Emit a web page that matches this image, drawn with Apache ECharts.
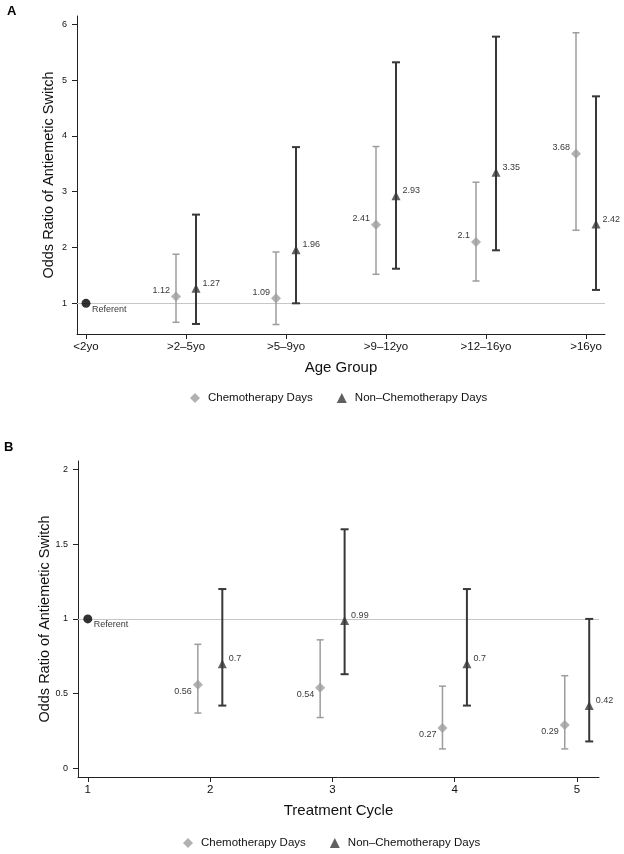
<!DOCTYPE html>
<html>
<head>
<meta charset="utf-8">
<script src="https://cdn.jsdelivr.net/npm/echarts@6/dist/echarts.min.js"></script>
<style>
html,body{margin:0;padding:0;background:#fff;}
#chart{width:624px;height:854px;}
</style>
</head>
<body>
<div id="chart"></div>
<script>
// ---------- Data ----------
const seriesNames = ['Chemotherapy Days', 'Non–Chemotherapy Days'];
const referentOR = 1;

// Panel A: age group
const ageGroups = ['<2yo', '>2–5yo', '>5–9yo', '>9–12yo', '>12–16yo', '>16yo'];
const ageChemoOR = [null, 1.12, 1.09, 2.41, 2.1, 3.68];
const ageChemoLo = [null, 0.66, 0.62, 1.52, 1.40, 2.31];
const ageChemoHi = [null, 1.88, 1.92, 3.81, 3.17, 5.85];
const ageNonOR   = [null, 1.27, 1.96, 2.93, 3.35, 2.42];
const ageNonLo   = [null, 0.63, 1.00, 1.62, 1.95, 1.24];
const ageNonHi   = [null, 2.59, 3.80, 5.32, 5.78, 4.71];
const ageYTicks  = [1, 2, 3, 4, 5, 6];

// Panel B: treatment cycle
const cycles = [1, 2, 3, 4, 5];
const cycleChemoOR = [null, 0.56, 0.54, 0.27, 0.29];
const cycleChemoLo = [null, 0.37, 0.34, 0.13, 0.13];
const cycleChemoHi = [null, 0.83, 0.86, 0.55, 0.62];
const cycleNonOR   = [null, 0.70, 0.99, 0.70, 0.42];
const cycleNonLo   = [null, 0.42, 0.63, 0.42, 0.18];
const cycleNonHi   = [null, 1.20, 1.60, 1.20, 1.00];
const cycleYTicks  = [0, 0.5, 1, 1.5, 2];

// ---------- Styling ----------
const FONT = '"Liberation Sans", Arial, Helvetica, sans-serif';
const CHEMO_COLOR = '#9d9d9d';
const NON_COLOR = '#383838';
const DODGE = 0.1;

function pts(xs, ys, shift) {
  const out = [];
  xs.forEach((x, i) => { if (ys[i] != null) out.push([x + shift, ys[i]]); });
  return out;
}
function bars(xs, lo, hi, shift) {
  const out = [];
  xs.forEach((x, i) => { if (lo[i] != null) out.push([x + shift, lo[i], hi[i]]); });
  return out;
}
function errRender(color, width, cap) {
  return function (params, api) {
    const x = api.value(0);
    const a = api.coord([x, api.value(1)]);
    const b = api.coord([x, api.value(2)]);
    const st = { stroke: color, lineWidth: width };
    const h = cap / 2;
    return {
      type: 'group',
      children: [
        { type: 'line', shape: { x1: a[0], y1: a[1], x2: b[0], y2: b[1] }, style: st },
        { type: 'line', shape: { x1: a[0] - h, y1: a[1], x2: a[0] + h, y2: a[1] }, style: st },
        { type: 'line', shape: { x1: b[0] - h, y1: b[1], x2: b[0] + h, y2: b[1] }, style: st }
      ]
    };
  };
}
function xAxisCfg(gridIndex, min, max, ticks, labels, name) {
  return {
    type: 'value', gridIndex, min, max,
    name, nameLocation: 'middle', nameGap: 26, nameMoveOverlap: false,
    nameTextStyle: { fontFamily: FONT, fontSize: 15, color: '#111' },
    axisLine: { show: true, onZero: false, lineStyle: { color: '#222', width: 1 } },
    axisTick: { show: true, customValues: ticks, length: 5, lineStyle: { color: '#222' } },
    axisLabel: {
      customValues: ticks, margin: 7, fontFamily: FONT, fontSize: 11.5, color: '#111',
      formatter: v => labels ? labels[Math.round(v)] : String(v)
    },
    splitLine: { show: false }
  };
}
function yAxisCfg(gridIndex, min, max, ticks, name, gap) {
  return {
    type: 'value', gridIndex, min, max,
    name, nameLocation: 'middle', nameGap: gap, nameMoveOverlap: false,
    nameTextStyle: { fontFamily: FONT, fontSize: 14.5, color: '#111' },
    axisLine: { show: true, onZero: false, lineStyle: { color: '#222', width: 1 } },
    axisTick: { show: true, customValues: ticks, length: 5, lineStyle: { color: '#222' } },
    axisLabel: { customValues: ticks, margin: 10, fontFamily: FONT, fontSize: 9, color: '#111' },
    splitLine: { show: false }
  };
}
function panelSeries(idx, xs, cOR, cLo, cHi, nOR, nLo, nHi, chemoLabelDy) {
  const lbl = { fontFamily: FONT, fontSize: 9, color: '#000', textBorderWidth: 0 };
  return [
    {
      type: 'custom', name: 'chemoCI' + idx, xAxisIndex: idx, yAxisIndex: idx, z: 2,
      renderItem: errRender(CHEMO_COLOR, 1.5, 7), encode: { x: 0, y: [1, 2] },
      data: bars(xs, cLo, cHi, -DODGE), silent: true
    },
    {
      type: 'custom', name: 'nonCI' + idx, xAxisIndex: idx, yAxisIndex: idx, z: 2,
      renderItem: errRender(NON_COLOR, 2, 8), encode: { x: 0, y: [1, 2] },
      data: bars(xs, nLo, nHi, DODGE), silent: true
    },
    {
      type: 'scatter', name: seriesNames[0], xAxisIndex: idx, yAxisIndex: idx, z: 5,
      symbol: 'diamond', symbolSize: 10, itemStyle: { color: CHEMO_COLOR },
      data: pts(xs, cOR, -DODGE),
      label: Object.assign({ show: true, position: 'left', distance: 1, offset: [0, chemoLabelDy],
        formatter: p => String(p.value[1]) }, lbl)
    },
    {
      type: 'scatter', name: seriesNames[1], xAxisIndex: idx, yAxisIndex: idx, z: 5,
      symbol: 'triangle', symbolSize: 9, itemStyle: { color: NON_COLOR },
      data: pts(xs, nOR, DODGE),
      label: Object.assign({ show: true, position: 'right', distance: 2, offset: [0, -5],
        formatter: p => String(p.value[1]) }, lbl)
    },
    {
      type: 'scatter', name: 'Referent' + idx, xAxisIndex: idx, yAxisIndex: idx, z: 6,
      symbol: 'circle', symbolSize: 9, itemStyle: { color: '#000' },
      data: [[xs[0], referentOR]],
      label: Object.assign({ show: true, position: 'right', distance: 1.5, offset: [0, 6],
        formatter: () => 'Referent' }, lbl),
      markLine: {
        silent: true, symbol: 'none', animation: false, z: 1,
        label: { show: false },
        lineStyle: { color: '#c6c6c6', width: 1, type: 'solid' },
        data: [{ yAxis: referentOR }]
      }
    }
  ];
}
function legendCfg(left, top) {
  return {
    left, top, orient: 'horizontal', itemWidth: 10, itemHeight: 10, itemGap: 24,
    selectedMode: false,
    textStyle: { fontFamily: FONT, fontSize: 11.5, color: '#111', padding: [0, 0, 0, 3] },
    data: [
      { name: seriesNames[0], icon: 'diamond', itemStyle: { color: CHEMO_COLOR } },
      { name: seriesNames[1], icon: 'triangle', itemStyle: { color: NON_COLOR } }
    ]
  };
}

const ageX = ageGroups.map((_, i) => i);

const option = {
  animation: false,
  backgroundColor: '#fff',
  title: [
    { text: 'A', left: 7, top: 5, padding: 0, textStyle: { fontFamily: FONT, fontSize: 13, fontWeight: 'bold', color: '#000' } },
    { text: 'B', left: 4, top: 441, padding: 0, textStyle: { fontFamily: FONT, fontSize: 13, fontWeight: 'bold', color: '#000' } }
  ],
  grid: [
    { left: 77, top: 16, width: 528, height: 318 },
    { left: 78, top: 461, width: 521, height: 316 }
  ],
  xAxis: [
    xAxisCfg(0, -0.09, 5.19, ageX, ageGroups, 'Age Group'),
    xAxisCfg(1, 0.92, 5.18, cycles, null, 'Treatment Cycle')
  ],
  yAxis: [
    yAxisCfg(0, 0.45, 6.15, ageYTicks, 'Odds Ratio of Antiemetic Switch', 21),
    yAxisCfg(1, -0.058, 2.057, cycleYTicks, 'Odds Ratio of Antiemetic Switch', 26)
  ],
  legend: [legendCfg(185, 387), legendCfg(178, 832)],
  series: [].concat(
    panelSeries(0, ageX, ageChemoOR, ageChemoLo, ageChemoHi, ageNonOR, ageNonLo, ageNonHi, -6),
    panelSeries(1, cycles, cycleChemoOR, cycleChemoLo, cycleChemoHi, cycleNonOR, cycleNonLo, cycleNonHi, 6.5)
  )
};

const chart = echarts.init(document.getElementById('chart'), null, { renderer: 'canvas' });
chart.setOption(option);
</script>
</body>
</html>
